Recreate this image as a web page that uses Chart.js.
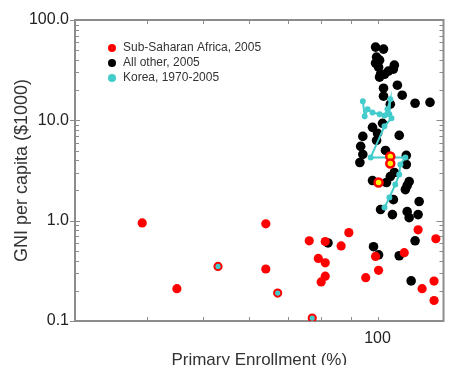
<!DOCTYPE html>
<html lang="en">
<head>
    <meta charset="UTF-8">
    <title>GNI per capita vs Primary Enrollment</title>
    <script src="https://cdn.jsdelivr.net/npm/chart.js"></script>
    <style>
        html, body { margin: 0; padding: 0; background: #fff; }
        #wrap { width: 450px; height: 365px; }
    </style>
</head>
<body>
    <div id="wrap"><canvas id="chart"></canvas></div>

    <script>
        // Sub-Saharan Africa, 2005
        const africaX = [39.2, 45.0, 64.1, 64.1, 76.2, 81.2, 89.2, 86.5, 79.0, 81.2, 81.2, 79.9, 95.4, 99.2, 100.4, 111.2, 117.5, 126.1, 125.2, 119.4, 125.2];
        const africaY = [0.95, 0.21, 0.93, 0.33, 0.63, 0.62, 0.76, 0.56, 0.42, 0.38, 0.28, 0.245, 0.27, 0.44, 0.32, 0.48, 0.81, 0.66, 0.25, 0.21, 0.16];
        // highlighted points (ring marks)
        const ringCyanX = [53.0, 67.2, 77.1];
        const ringCyanY = [0.35, 0.19, 0.107];
        const ringYellowX = [105.2, 105.2, 100.4];
        const ringYellowY = [4.37, 3.72, 2.40];

        // All other, 2005
        const otherX = [99.2, 102.4, 99.6, 100.8, 99.2, 100.4, 106.9, 106.5, 104.4, 101.2, 102.8, 100.8, 108.2, 102.4, 102.4, 110.3, 116.1, 123.2, 105.2,
                        102.0, 98.0, 94.3, 100.0, 99.6, 109.0, 93.5, 94.3, 103.2, 93.2, 112.1, 112.1, 106.9, 105.2, 98.0, 103.6, 113.4, 112.5, 111.7,
                        106.5, 118.0, 101.2, 106.1, 112.5, 117.5, 113.4, 116.1, 98.4, 100.4, 109.0, 114.3, 82.1];
        const otherY = [53.7, 51.3, 42.7, 39.8, 37.2, 33.9, 35.5, 32.4, 30.9, 28.8, 28.8, 26.9, 22.4, 20.9, 17.4, 17.8, 14.8, 15.1, 14.5,
                        9.33, 8.51, 6.92, 7.41, 6.3, 7.08, 5.50, 4.57, 5.01, 3.80, 4.47, 3.63, 3.02, 2.75, 2.51, 2.40, 2.45, 2.24, 2.04,
                        1.62, 1.55, 1.29, 1.15, 1.23, 1.15, 1.07, 0.63, 0.55, 0.457, 0.447, 0.251, 0.60];

        // Korea, 1970-2005
        const koreaX = [102.8, 104.8, 107.3, 109.0, 109.5, 111.7, 97.3, 102.8, 105.7, 104.8, 105.2, 104.0, 102.8, 100.8, 98.0, 96.1, 95.0, 94.3];
        const koreaY = [1.35, 1.70, 2.29, 2.88, 3.63, 4.27, 4.27, 8.71, 10.5, 11.5, 16.2, 12.9, 11.2, 11.5, 12.0, 12.9, 11.0, 15.5];

        // axis ticks
        const xTicks = [40, 50, 60, 70, 80, 90, 100];
        const xLabels = [100];
        const yMajor = [0.1, 1, 10, 100];
        const yTicks = [0.1, 0.2, 0.3, 0.4, 0.5, 0.6, 0.7, 0.8, 0.9,
                        1, 2, 3, 4, 5, 6, 7, 8, 9,
                        10, 20, 30, 40, 50, 60, 70, 80, 90, 100];

        const RED = '#ff0000';
        const CYAN = '#44cccc';
        const AXIS = '#8c8c8c';

        const pts = (xs, ys) => xs.map((x, i) => ({ x: x, y: ys[i] }));

        // box around plot with inward tick marks
        const framePlugin = {
            id: 'frame',
            beforeDatasetsDraw(chart) {
                const { ctx, chartArea: a, scales: { x, y } } = chart;
                ctx.save();
                ctx.strokeStyle = AXIS;
                ctx.lineWidth = 1;
                const line = (x1, y1, x2, y2) => { ctx.beginPath(); ctx.moveTo(x1, y1); ctx.lineTo(x2, y2); ctx.stroke(); };
                x.ticks.forEach(t => {
                    const px = Math.round(x.getPixelForValue(t.value)) + 0.5;
                    line(px, a.bottom, px, a.bottom - 4);
                    line(px, a.top, px, a.top + 4);
                });
                y.ticks.forEach(t => {
                    const py = Math.round(y.getPixelForValue(t.value)) + 0.5;
                    const major = yMajor.includes(t.value);
                    if (major) line(a.left - 5, py, a.left + 5, py);
                    else line(a.left, py, a.left + 4, py);
                    line(a.right - (major ? 7 : 4), py, a.right, py);
                });
                ctx.lineWidth = 2;
                ctx.strokeRect(a.left, a.top, a.right - a.left, a.bottom - a.top);
                ctx.restore();
            }
        };

        // legend drawn inside the plot area
        const legendPlugin = {
            id: 'innerLegend',
            afterDatasetsDraw(chart) {
                const { ctx, chartArea: a } = chart;
                ctx.save();
                ctx.font = '12px "Liberation Sans", Arial, sans-serif';
                ctx.textBaseline = 'middle';
                ctx.textAlign = 'left';
                let row = 0;
                chart.data.datasets.forEach(ds => {
                    if (!ds.label) return;
                    const cx = a.left + 37, cy = a.top + 28 + row * 15;
                    ctx.fillStyle = ds.legendColor;
                    ctx.beginPath();
                    ctx.arc(cx, cy, 4, 0, Math.PI * 2);
                    ctx.fill();
                    ctx.fillStyle = '#333';
                    ctx.fillText(ds.label, cx + 11, cy);
                    row++;
                });
                ctx.restore();
            }
        };

        Chart.defaults.font.family = '"Liberation Sans", Arial, sans-serif';

        new Chart(document.getElementById('chart'), {
            type: 'scatter',
            data: {
                datasets: [
                    {
                        label: 'Sub-Saharan Africa, 2005',
                        legendColor: RED,
                        data: pts(africaX, africaY),
                        backgroundColor: RED,
                        borderColor: RED,
                        pointRadius: 4.6,
                        borderWidth: 0,
                        order: 1
                    },
                    {
                        label: 'All other, 2005',
                        legendColor: '#000',
                        data: pts(otherX, otherY),
                        backgroundColor: '#000',
                        borderColor: '#000',
                        pointRadius: 4.8,
                        borderWidth: 0,
                        order: 3
                    },
                    {
                        label: 'Korea, 1970-2005',
                        legendColor: CYAN,
                        data: pts(koreaX, koreaY),
                        showLine: true,
                        backgroundColor: CYAN,
                        borderColor: CYAN,
                        borderWidth: 2,
                        pointRadius: 2,
                        tension: 0,
                        order: 2
                    },
                    {
                        data: pts(ringCyanX, ringCyanY),
                        backgroundColor: CYAN,
                        borderColor: RED,
                        borderWidth: 2,
                        pointRadius: 3.6,
                        order: 0
                    },
                    {
                        data: pts(ringYellowX, ringYellowY),
                        backgroundColor: '#ffee00',
                        borderColor: RED,
                        borderWidth: 2.5,
                        pointRadius: 4,
                        order: 0
                    }
                ]
            },
            options: {
                responsive: true,
                maintainAspectRatio: false,
                animation: false,
                layout: { padding: { top: 20, right: 3 } },
                plugins: {
                    legend: { display: false },
                    tooltip: { enabled: false }
                },
                scales: {
                    x: {
                        type: 'logarithmic',
                        min: 30,
                        max: 130,
                        bounds: 'data',
                        afterBuildTicks: s => { s.ticks = xTicks.map(v => ({ value: v })); },
                        afterFit: s => { s.height = 44; },
                        grid: { display: false, drawTicks: false },
                        border: { display: false },
                        ticks: {
                            autoSkip: false,
                            maxRotation: 0,
                            padding: 8,
                            color: '#222',
                            font: { size: 16 },
                            callback: v => xLabels.includes(v) ? String(v) : ''
                        },
                        title: {
                            display: true,
                            text: 'Primary Enrollment (%)',
                            color: '#333',
                            font: { size: 17, lineHeight: 1 },
                            padding: { top: 0, bottom: -4 }
                        }
                    },
                    y: {
                        type: 'logarithmic',
                        min: 0.1,
                        max: 100,
                        bounds: 'data',
                        afterBuildTicks: s => { s.ticks = yTicks.map(v => ({ value: v })); },
                        afterFit: s => { s.width = 75; },
                        grid: { display: false, drawTicks: false },
                        border: { display: false },
                        ticks: {
                            autoSkip: false,
                            padding: 6,
                            color: '#222',
                            font: { size: 16 },
                            callback: v => yMajor.includes(v) ? v.toFixed(1) : ''
                        },
                        title: {
                            display: true,
                            text: 'GNI per capita ($1000)',
                            color: '#333',
                            font: { size: 18, lineHeight: 1 },
                            padding: { top: 13, bottom: 0 }
                        }
                    }
                }
            },
            plugins: [framePlugin, legendPlugin]
        });
    </script>
</body>
</html>
